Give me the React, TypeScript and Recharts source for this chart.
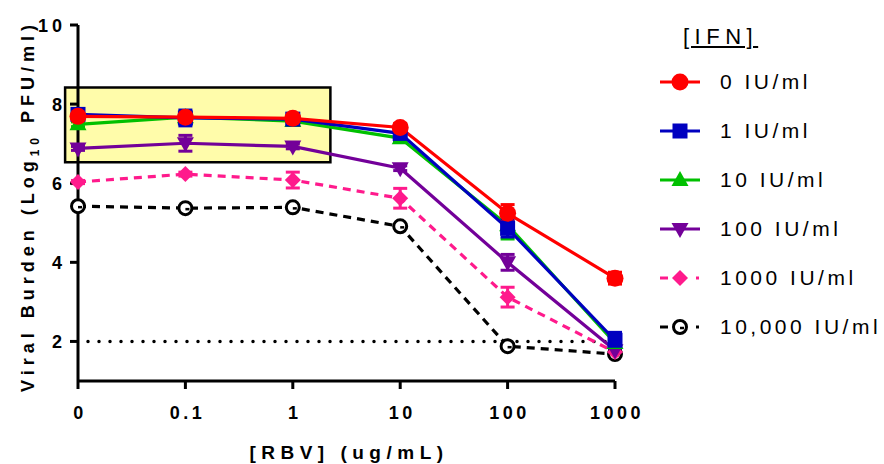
import React from 'react';
import { LineChart, Line, XAxis, YAxis, ReferenceArea, ReferenceLine, ErrorBar } from 'recharts';

// RBV doses (categorical, evenly spaced)
const doses = ['0', '0.1', '1', '10', '100', '1000'];

// Log10 PFU/ml per IFN concentration
const ifn0 = [7.69, 7.67, 7.64, 7.41, 5.24, 3.6];
const ifn0Err = [0.08, 0.05, 0.06, 0.1, 0.22, 0.15];
const ifn1 = [7.74, 7.65, 7.62, 7.26, 4.86, 2.03];
const ifn1Err = [0.08, 0.2, 0.08, 0.2, 0.22, 0.2];
const ifn10 = [7.49, 7.67, 7.57, 7.14, 4.94, 1.96];
const ifn10Err = [0.06, 0.1, 0.05, 0.08, 0.35, 0.08];
const ifn100 = [6.88, 7.01, 6.93, 6.38, 4.0, 1.78];
const ifn100Err = [0.05, 0.2, 0.06, 0.06, 0.2, 0.05];
const ifn1000 = [6.03, 6.23, 6.08, 5.62, 3.12, 1.73];
const ifn1000Err = [0.04, 0.05, 0.2, 0.25, 0.25, 0.05];
const ifn10000 = [5.42, 5.37, 5.39, 4.91, 1.88, 1.68];
const ifn10000Err = [0.03, 0.03, 0.03, 0.04, 0.05, 0.03];

const yTicks = [2, 4, 6, 8, 10];

const data = doses.map((d, i) => ({
  i,
  a: ifn0[i], aE: ifn0Err[i],
  b: ifn1[i], bE: ifn1Err[i],
  c: ifn10[i], cE: ifn10Err[i],
  d: ifn100[i], dE: ifn100Err[i],
  e: ifn1000[i], eE: ifn1000Err[i],
  f: ifn10000[i], fE: ifn10000Err[i],
}));

const FONT = '"Liberation Sans", Arial, sans-serif';
const RED = '#ff0000';
const BLUE = '#0000c0';
const GREEN = '#00c000';
const PURPLE = '#730099';
const PINK = '#ff1a8c';

type Shape = 'circle' | 'square' | 'up' | 'down' | 'diamond' | 'open';

const drawMarker = (shape: Shape, cx: number, cy: number, color: string, key?: any) => {
  switch (shape) {
    case 'circle':
      return <circle key={key} cx={cx} cy={cy} r={8.5} fill={color} />;
    case 'square':
      return <rect key={key} x={cx - 7.5} y={cy - 7.5} width={15} height={15} fill={color} />;
    case 'up':
      return <polygon key={key} points={`${cx},${cy - 9} ${cx - 8.5},${cy + 6} ${cx + 8.5},${cy + 6}`} fill={color} />;
    case 'down':
      return <polygon key={key} points={`${cx},${cy + 9} ${cx - 8.5},${cy - 6} ${cx + 8.5},${cy - 6}`} fill={color} />;
    case 'diamond':
      return <polygon key={key} points={`${cx},${cy - 8} ${cx + 8},${cy} ${cx},${cy + 8} ${cx - 8},${cy}`} fill={color} />;
    default:
      return (
        <g key={key}>
          <circle cx={cx} cy={cy} r={6.5} fill="#fff" stroke={color} strokeWidth={3} />
          <line x1={cx} y1={cy + 1} x2={cx + 4} y2={cy + 1} stroke={color} strokeWidth={2.5} />
        </g>
      );
  }
};

const dotFor = (shape: Shape, color: string) => (props: any) =>
  drawMarker(shape, props.cx, props.cy, color, props.index);

const series = [
  { key: 'f', err: 'fE', name: '10,000 IU/ml', color: '#000', shape: 'open' as Shape, dash: '8 6' },
  { key: 'e', err: 'eE', name: '1000 IU/ml', color: PINK, shape: 'diamond' as Shape, dash: '8 6' },
  { key: 'd', err: 'dE', name: '100 IU/ml', color: PURPLE, shape: 'down' as Shape },
  { key: 'c', err: 'cE', name: '10 IU/ml', color: GREEN, shape: 'up' as Shape },
  { key: 'b', err: 'bE', name: '1 IU/ml', color: BLUE, shape: 'square' as Shape },
  { key: 'a', err: 'aE', name: '0 IU/ml', color: RED, shape: 'circle' as Shape },
];

const XTick = ({ x, y, payload }: any) => (
  <text x={x + 2} y={y + 28} textAnchor="middle" fontFamily={FONT} fontWeight="bold" fontSize={18}
    letterSpacing={3.5} fill="#000">
    {doses[payload.value]}
  </text>
);

const YTick = ({ x, y, payload }: any) => (
  <text x={x - 2} y={y + 7} textAnchor="end" fontFamily={FONT} fontWeight="bold" fontSize={18}
    letterSpacing={4} fill="#000">
    {payload.value}
  </text>
);

const YLabel = () => (
  <text transform="translate(34,206) rotate(-90)" textAnchor="middle" fontFamily={FONT} fontWeight="bold"
    fontSize={18} letterSpacing={5} fill="#000">
    Viral Burden (Log<tspan fontSize={12} dy={5}>10</tspan><tspan dy={-5}> PFU/ml)</tspan>
  </text>
);

const XLabel = () => (
  <text x={349} y={459} textAnchor="middle" fontFamily={FONT} fontWeight="bold" fontSize={19}
    letterSpacing={5.5} fill="#000">
    [RBV] (ug/mL)
  </text>
);

const legendOrder = [...series].reverse();

const Legend = () => (
  <div style={{ position: 'absolute', left: 0, top: 0, width: 884, height: 464, pointerEvents: 'none' }}>
    <div style={{
      position: 'absolute', left: 683, top: 24, fontFamily: FONT, fontSize: 22, letterSpacing: 5.5,
      textDecoration: 'underline', color: '#000', lineHeight: '26px'
    }}>[IFN]</div>
    {legendOrder.map((s, idx) => {
      const cy = 82 + idx * 49;
      return (
        <div key={s.key}>
          <svg style={{ position: 'absolute', left: 655, top: cy - 12 }} width={50} height={24}>
            {s.dash ? (
              <g>
                <line x1={5} y1={12} x2={13} y2={12} stroke={s.color} strokeWidth={3} />
                <line x1={41} y1={12} x2={44} y2={12} stroke={s.color} strokeWidth={3} />
              </g>
            ) : (
              <line x1={5} y1={12} x2={45} y2={12} stroke={s.color} strokeWidth={3} />
            )}
            {drawMarker(s.shape, 25, 12, s.color)}
          </svg>
          <div style={{
            position: 'absolute', left: 720, top: cy - 13, fontFamily: FONT, fontSize: 21,
            letterSpacing: 3.5, color: '#000', lineHeight: '26px', whiteSpace: 'nowrap'
          }}>{s.name}</div>
        </div>
      );
    })}
  </div>
);

export default function App() {
  return (
    <div style={{ position: 'absolute', left: 0, top: 0, width: 884, height: 464, background: '#fff' }}>
      <LineChart width={884} height={464} data={data} margin={{ top: 25, right: 269, bottom: 0, left: 0 }}>
        <XAxis
          type="number"
          dataKey="i"
          domain={[0, 5]}
          ticks={[0, 1, 2, 3, 4, 5]}
          height={83}
          axisLine={{ stroke: '#000', strokeWidth: 3 }}
          tickLine={{ stroke: '#000', strokeWidth: 3 }}
          tickSize={8}
          tick={<XTick />}
          interval={0}
        />
        <YAxis
          type="number"
          domain={[1, 10]}
          ticks={yTicks}
          width={78}
          axisLine={{ stroke: '#000', strokeWidth: 3 }}
          tickLine={{ stroke: '#000', strokeWidth: 3 }}
          tickSize={8}
          tick={<YTick />}
          interval={0}
        />
        <ReferenceArea x1={-0.12} x2={2.35} y1={6.53} y2={8.42} ifOverflow="visible"
          fill="#fffcaa" fillOpacity={1} stroke="#000" strokeWidth={2.5} />
        <ReferenceLine y={2} stroke="#000" strokeWidth={3.5} strokeDasharray="0 11" strokeDashoffset={-10}
          strokeLinecap="round" />
        {series.map(s => (
          <Line
            key={s.key}
            type="linear"
            dataKey={s.key}
            stroke={s.color}
            strokeWidth={3.2}
            strokeDasharray={s.dash}
            dot={dotFor(s.shape, s.color)}
            activeDot={false}
            isAnimationActive={false}
          >
            <ErrorBar dataKey={s.err} direction="y" width={7} stroke={s.color} strokeWidth={3} />
          </Line>
        ))}
        <YLabel />
        <XLabel />
      </LineChart>
      <Legend />
    </div>
  );
}
